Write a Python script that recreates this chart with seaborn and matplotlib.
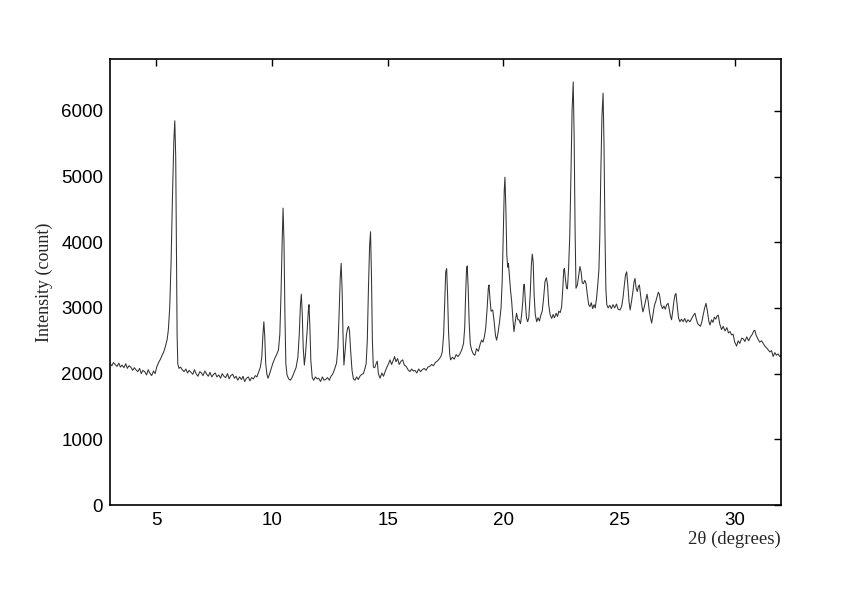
import matplotlib
matplotlib.use("Agg")
import matplotlib.pyplot as plt
import seaborn as sns

# ─── Data: XRD scan (2θ in degrees, counts) ──────────────────────────────────
two_theta = [
    3.00, 3.08, 3.15, 3.22, 3.30, 3.38, 3.45, 3.52, 3.60, 3.68,
    3.75, 3.82, 3.90, 3.98, 4.05, 4.12, 4.20, 4.28, 4.35, 4.42,
    4.50, 4.58, 4.65, 4.72, 4.80, 4.88, 4.95, 5.02, 5.10, 5.18,
    5.25, 5.32, 5.40, 5.47, 5.52, 5.58, 5.64, 5.70, 5.76, 5.80,
    5.84, 5.87, 5.90, 5.93, 5.98, 6.05, 6.12, 6.20, 6.28, 6.35,
    6.42, 6.50, 6.58, 6.65, 6.72, 6.80, 6.88, 6.95, 7.02, 7.10,
    7.18, 7.25, 7.32, 7.40, 7.48, 7.55, 7.62, 7.70, 7.78, 7.85,
    7.92, 8.00, 8.08, 8.15, 8.22, 8.30, 8.38, 8.45, 8.52, 8.60,
    8.68, 8.75, 8.82, 8.90, 8.98, 9.05, 9.12, 9.20, 9.28, 9.35,
    9.42, 9.50, 9.56, 9.61, 9.65, 9.69, 9.73, 9.78, 9.83, 9.90,
    9.97, 10.04, 10.12, 10.20, 10.28, 10.34, 10.39, 10.44, 10.48, 10.52,
    10.56, 10.60, 10.65, 10.72, 10.80, 10.88, 10.96, 11.04, 11.12, 11.18,
    11.23, 11.27, 11.31, 11.35, 11.40, 11.45, 11.52, 11.57, 11.60, 11.64,
    11.68, 11.74, 11.80, 11.88, 11.95, 12.02, 12.10, 12.18, 12.25, 12.32,
    12.40, 12.48, 12.55, 12.62, 12.70, 12.79, 12.85, 12.90, 12.95, 12.99,
    13.03, 13.07, 13.11, 13.16, 13.22, 13.27, 13.31, 13.35, 13.40, 13.46,
    13.52, 13.59, 13.66, 13.73, 13.80, 13.88, 13.95, 14.02, 14.07, 14.12,
    14.17, 14.22, 14.26, 14.30, 14.34, 14.38, 14.44, 14.50, 14.55, 14.60,
    14.67, 14.75, 14.82, 14.90, 14.97, 15.05, 15.10, 15.17, 15.24, 15.30,
    15.36, 15.43, 15.50, 15.58, 15.65, 15.72, 15.80, 15.88, 15.96, 16.04,
    16.11, 16.18, 16.26, 16.34, 16.42, 16.50, 16.58, 16.66, 16.74, 16.82,
    16.90, 16.98, 17.06, 17.14, 17.22, 17.30, 17.36, 17.42, 17.47, 17.51,
    17.55, 17.59, 17.63, 17.68, 17.72, 17.80, 17.88, 17.96, 18.04, 18.12,
    18.20, 18.28, 18.33, 18.37, 18.41, 18.44, 18.48, 18.52, 18.57, 18.63,
    18.70, 18.77, 18.84, 18.92, 19.00, 19.06, 19.12, 19.18, 19.24, 19.30,
    19.35, 19.38, 19.42, 19.47, 19.54, 19.60, 19.66, 19.71, 19.77, 19.84,
    19.90, 19.95, 20.00, 20.04, 20.07, 20.11, 20.15, 20.19, 20.22, 20.26,
    20.31, 20.36, 20.42, 20.46, 20.52, 20.57, 20.63, 20.68, 20.74, 20.79,
    20.84, 20.88, 20.91, 20.95, 21.00, 21.05, 21.10, 21.16, 21.21, 21.25,
    21.29, 21.33, 21.38, 21.44, 21.50, 21.56, 21.62, 21.68, 21.74, 21.80,
    21.86, 21.91, 21.96, 22.02, 22.09, 22.15, 22.21, 22.28, 22.34, 22.40,
    22.46, 22.52, 22.57, 22.61, 22.64, 22.68, 22.73, 22.77, 22.82, 22.87,
    22.92, 22.97, 23.02, 23.06, 23.10, 23.14, 23.20, 23.26, 23.31, 23.36,
    23.41, 23.46, 23.52, 23.57, 23.63, 23.69, 23.74, 23.80, 23.86, 23.92,
    23.97, 24.03, 24.08, 24.13, 24.17, 24.21, 24.26, 24.31, 24.35, 24.39,
    24.43, 24.47, 24.53, 24.60, 24.67, 24.74, 24.81, 24.89, 24.96, 25.04,
    25.11, 25.17, 25.23, 25.28, 25.33, 25.38, 25.43, 25.48, 25.54, 25.60,
    25.65, 25.69, 25.74, 25.79, 25.84, 25.88, 25.93, 25.98, 26.03, 26.08,
    26.14, 26.21, 26.26, 26.31, 26.36, 26.41, 26.47, 26.53, 26.59, 26.65,
    26.70, 26.75, 26.81, 26.88, 26.94, 27.00, 27.06, 27.12, 27.17, 27.22,
    27.27, 27.32, 27.37, 27.42, 27.46, 27.51, 27.57, 27.63, 27.70, 27.77,
    27.84, 27.91, 27.98, 28.06, 28.13, 28.20, 28.28, 28.34, 28.40, 28.46,
    28.52, 28.58, 28.64, 28.70, 28.76, 28.82, 28.88, 28.93, 29.00, 29.06,
    29.12, 29.18, 29.24, 29.29, 29.35, 29.43, 29.50, 29.58, 29.66, 29.73,
    29.80, 29.86, 29.93, 30.00, 30.08, 30.15, 30.22, 30.30, 30.37, 30.44,
    30.52, 30.60, 30.68, 30.76, 30.82, 30.87, 30.93, 31.00, 31.08, 31.16,
    31.23, 31.30, 31.38, 31.45, 31.52, 31.59, 31.66, 31.73, 31.80, 31.87,
    31.95, 32.00,
]

intensity = [
    2150, 2120, 2170, 2140, 2110, 2160, 2100, 2130, 2090, 2150,
    2080, 2120, 2100, 2050, 2090, 2060, 2030, 2080, 2000, 2050,
    2030, 1980, 2060, 2010, 1970, 2040, 2000, 2100, 2170, 2220,
    2280, 2330, 2420, 2520, 2660, 3000, 3700, 4700, 5550, 5850,
    5300, 4000, 2600, 2150, 2080, 2100, 2060, 2030, 2070, 2010,
    2050, 2020, 1990, 2060, 2000, 1960, 2030, 2010, 1970, 2040,
    1990, 1960, 2020, 1950, 1990, 2010, 1950, 1980, 1930, 2000,
    1960, 1940, 2000, 1920, 1970, 1990, 1930, 1960, 1900, 1950,
    1910, 1960, 1880, 1930, 1950, 1890, 1940, 1920, 1970, 1950,
    2020, 2100, 2250, 2600, 2790, 2550, 2150, 1990, 1930, 2000,
    2080, 2160, 2230, 2290, 2360, 2600, 3200, 4000, 4520, 4000,
    2900, 2150, 1980, 1920, 1900, 1950, 2020, 2090, 2250, 2600,
    3050, 3210, 2900, 2400, 2130, 2300, 2650, 2950, 3050, 2700,
    2200, 1940, 1900, 1950, 1920, 1930, 1880, 1950, 1900, 1910,
    1940, 1900, 1960, 1990, 2060, 2160, 2400, 2900, 3450, 3680,
    3300, 2600, 2130, 2350, 2600, 2690, 2720, 2650, 2350, 2050,
    1920, 1900, 1950, 1910, 1960, 1990, 2000, 2080, 2150, 2500,
    3300, 3950, 4160, 3500, 2500, 2100, 2090, 2150, 2190, 2000,
    1930, 2010, 1960, 2040, 2100, 2160, 2210, 2140, 2200, 2260,
    2180, 2230, 2140, 2190, 2210, 2130, 2110, 2060, 2030, 2070,
    2040, 2050, 2010, 2070, 2030, 2060, 2080, 2050, 2100, 2110,
    2140, 2120, 2170, 2190, 2220, 2260, 2330, 2600, 3150, 3550,
    3600, 3200, 2650, 2300, 2210, 2250, 2220, 2290, 2260, 2300,
    2360, 2460, 2700, 3200, 3600, 3640, 3300, 2800, 2450, 2360,
    2300, 2280, 2380, 2340, 2450, 2510, 2480, 2560, 2700, 3000,
    3300, 3350, 3150, 2950, 2970, 2800, 2580, 2510, 2620, 2800,
    3000, 3400, 4200, 4800, 4990, 4500, 3800, 3620, 3680, 3500,
    3270, 3100, 2800, 2640, 2800, 2920, 2820, 2820, 2760, 2890,
    3100, 3350, 3360, 3100, 2850, 2790, 2850, 3200, 3650, 3820,
    3700, 3200, 2900, 2790, 2850, 2800, 2890, 2950, 3150, 3400,
    3460, 3350, 3050, 2900, 2840, 2900, 2850, 2920, 2870, 2950,
    2930, 3020, 3300, 3580, 3600, 3450, 3300, 3290, 3600, 4100,
    5000, 6000, 6440, 5600, 4200, 3300, 3350, 3500, 3630, 3550,
    3380, 3370, 3420, 3380, 3200, 3050, 3020, 3080, 2990, 3050,
    3000, 3150, 3350, 3580, 4100, 5000, 5900, 6270, 5500, 4200,
    3300, 3050, 3000, 3040, 2990, 3050, 3000, 3060, 2980, 2970,
    3020, 3150, 3350, 3500, 3550, 3350, 3100, 2970, 3100, 3250,
    3400, 3450, 3300, 3250, 3330, 3350, 3200, 3050, 2940, 3000,
    3100, 3210, 3100, 2950, 2850, 2770, 2900, 3040, 3100, 3180,
    3240, 3200, 3050, 2990, 3030, 2980, 3050, 3070, 2980, 2880,
    2820, 2950, 3100, 3200, 3220, 3050, 2850, 2790, 2830, 2790,
    2840, 2780, 2820, 2790, 2830, 2880, 2920, 2830, 2760, 2740,
    2720, 2790, 2900, 3000, 3070, 2950, 2800, 2740, 2820, 2780,
    2860, 2830, 2880, 2890, 2760, 2670, 2720, 2650, 2700, 2620,
    2640, 2590, 2600, 2480, 2420, 2500, 2460, 2540, 2530, 2490,
    2560, 2500, 2560, 2600, 2650, 2660, 2580, 2530, 2480, 2500,
    2460, 2420, 2390, 2360, 2330, 2350, 2260, 2320, 2280, 2300,
    2260, 2280,
]

x_ticks = [5, 10, 15, 20, 25, 30]
y_ticks = [0, 1000, 2000, 3000, 4000, 5000, 6000]

assert len(two_theta) == len(intensity)

# ─── Style ───────────────────────────────────────────────────────────────────
sns.set_style("white")
plt.rcParams["font.family"] = ["Liberation Sans", "DejaVu Sans"]

fig = plt.figure(figsize=(8.42, 5.95), dpi=100)
ax = fig.add_axes([110 / 842, 90 / 595, 671 / 842, 446 / 595])

sns.lineplot(x=two_theta, y=intensity, ax=ax, color="#333333",
             linewidth=0.75, estimator=None, sort=False)

ax.set_xlim(3, 32)
ax.set_ylim(0, 6790)
ax.set_xticks(x_ticks)
ax.set_yticks(y_ticks)
ax.set_xticklabels([str(t) for t in x_ticks])
ax.set_yticklabels([str(t) for t in y_ticks])

ax.tick_params(direction="in", length=5, width=1.0, top=True, right=True,
               labelsize=13.5, colors="black", pad=5)
for spine in ax.spines.values():
    spine.set_visible(True)
    spine.set_color("black")
    spine.set_linewidth(1.2)

serif = ["Liberation Serif", "DejaVu Serif"]
ax.set_xlabel("2θ (degrees)", family=serif, fontsize=13.5, loc="right")
ax.xaxis.set_label_coords(1.0, -0.058)
ax.set_ylabel("Intensity (count)", family=serif, fontsize=13)
ax.yaxis.set_label_coords(-0.085, 0.5)

fig.savefig("out.png", dpi=100, facecolor="white")
